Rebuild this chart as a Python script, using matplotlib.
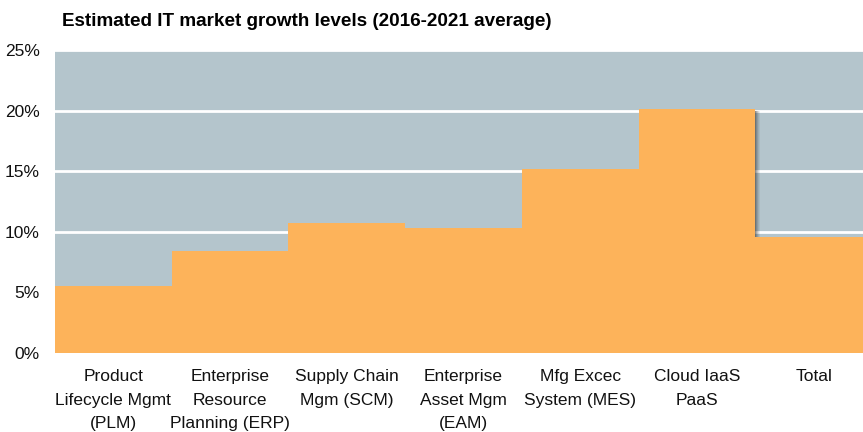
import matplotlib.pyplot as plt
from matplotlib.patches import Rectangle

categories = ['Product\nLifecycle Mgmt\n(PLM)', 'Enterprise\nResource\nPlanning (ERP)',
              'Supply Chain\nMgm (SCM)', 'Enterprise\nAsset Mgm\n(EAM)',
              'Mfg Excec\nSystem (MES)', 'Cloud IaaS\nPaaS', 'Total']
growth = [5.5, 8.4, 10.7, 10.3, 15.2, 20.1, 9.6]
yticks = [0, 5, 10, 15, 20, 25]
ytick_labels = ['0%', '5%', '10%', '15%', '20%', '25%']

bg_color = '#B4C5CC'
bar_color = '#FDB35A'

plt.rcParams['font.family'] = ['Liberation Sans', 'DejaVu Sans']

fig = plt.figure(figsize=(8.63, 4.32), dpi=100)
W, H = 863, 432
ax = fig.add_axes([55 / W, (H - 353) / H, (863 - 55) / W, (353 - 50) / H])
ax.set_facecolor(bg_color)

x = list(range(len(growth)))

# soft shadow to the right of the tallest bar
top = growth.index(max(growth))
for k, a in enumerate([0.55, 0.4, 0.28, 0.16, 0.07]):
    ax.add_patch(Rectangle((top + 0.5 + k * 0.0085, 0), 0.0085, growth[top] - 0.1,
                           facecolor='#303030', alpha=a, linewidth=0, zorder=2))

ax.bar(x, growth, width=1.0, color=bar_color, linewidth=0, zorder=3)

ax.set_xlim(-0.5, 6.5 - 9 / 116.7)
ax.set_ylim(0, 25)
ax.set_yticks(yticks)
ax.set_yticklabels(ytick_labels, fontsize=12.5, color='#111111')
ax.yaxis.grid(True, color='white', linewidth=2)
ax.set_axisbelow(True)
ax.set_xticks(x)
ax.set_xticklabels(categories, fontsize=12.5, linespacing=1.72, va='top', color='#111111')
ax.tick_params(axis='both', length=0)
ax.tick_params(axis='y', pad=11)
ax.tick_params(axis='x', pad=11.5)
for s in ax.spines.values():
    s.set_visible(False)

fig.text(62 / W, 1 - 21 / H, 'Estimated IT market growth levels (2016-2021 average)',
         fontsize=13.6, fontweight='bold', ha='left', va='center')

fig.savefig('out.png', dpi=100)
